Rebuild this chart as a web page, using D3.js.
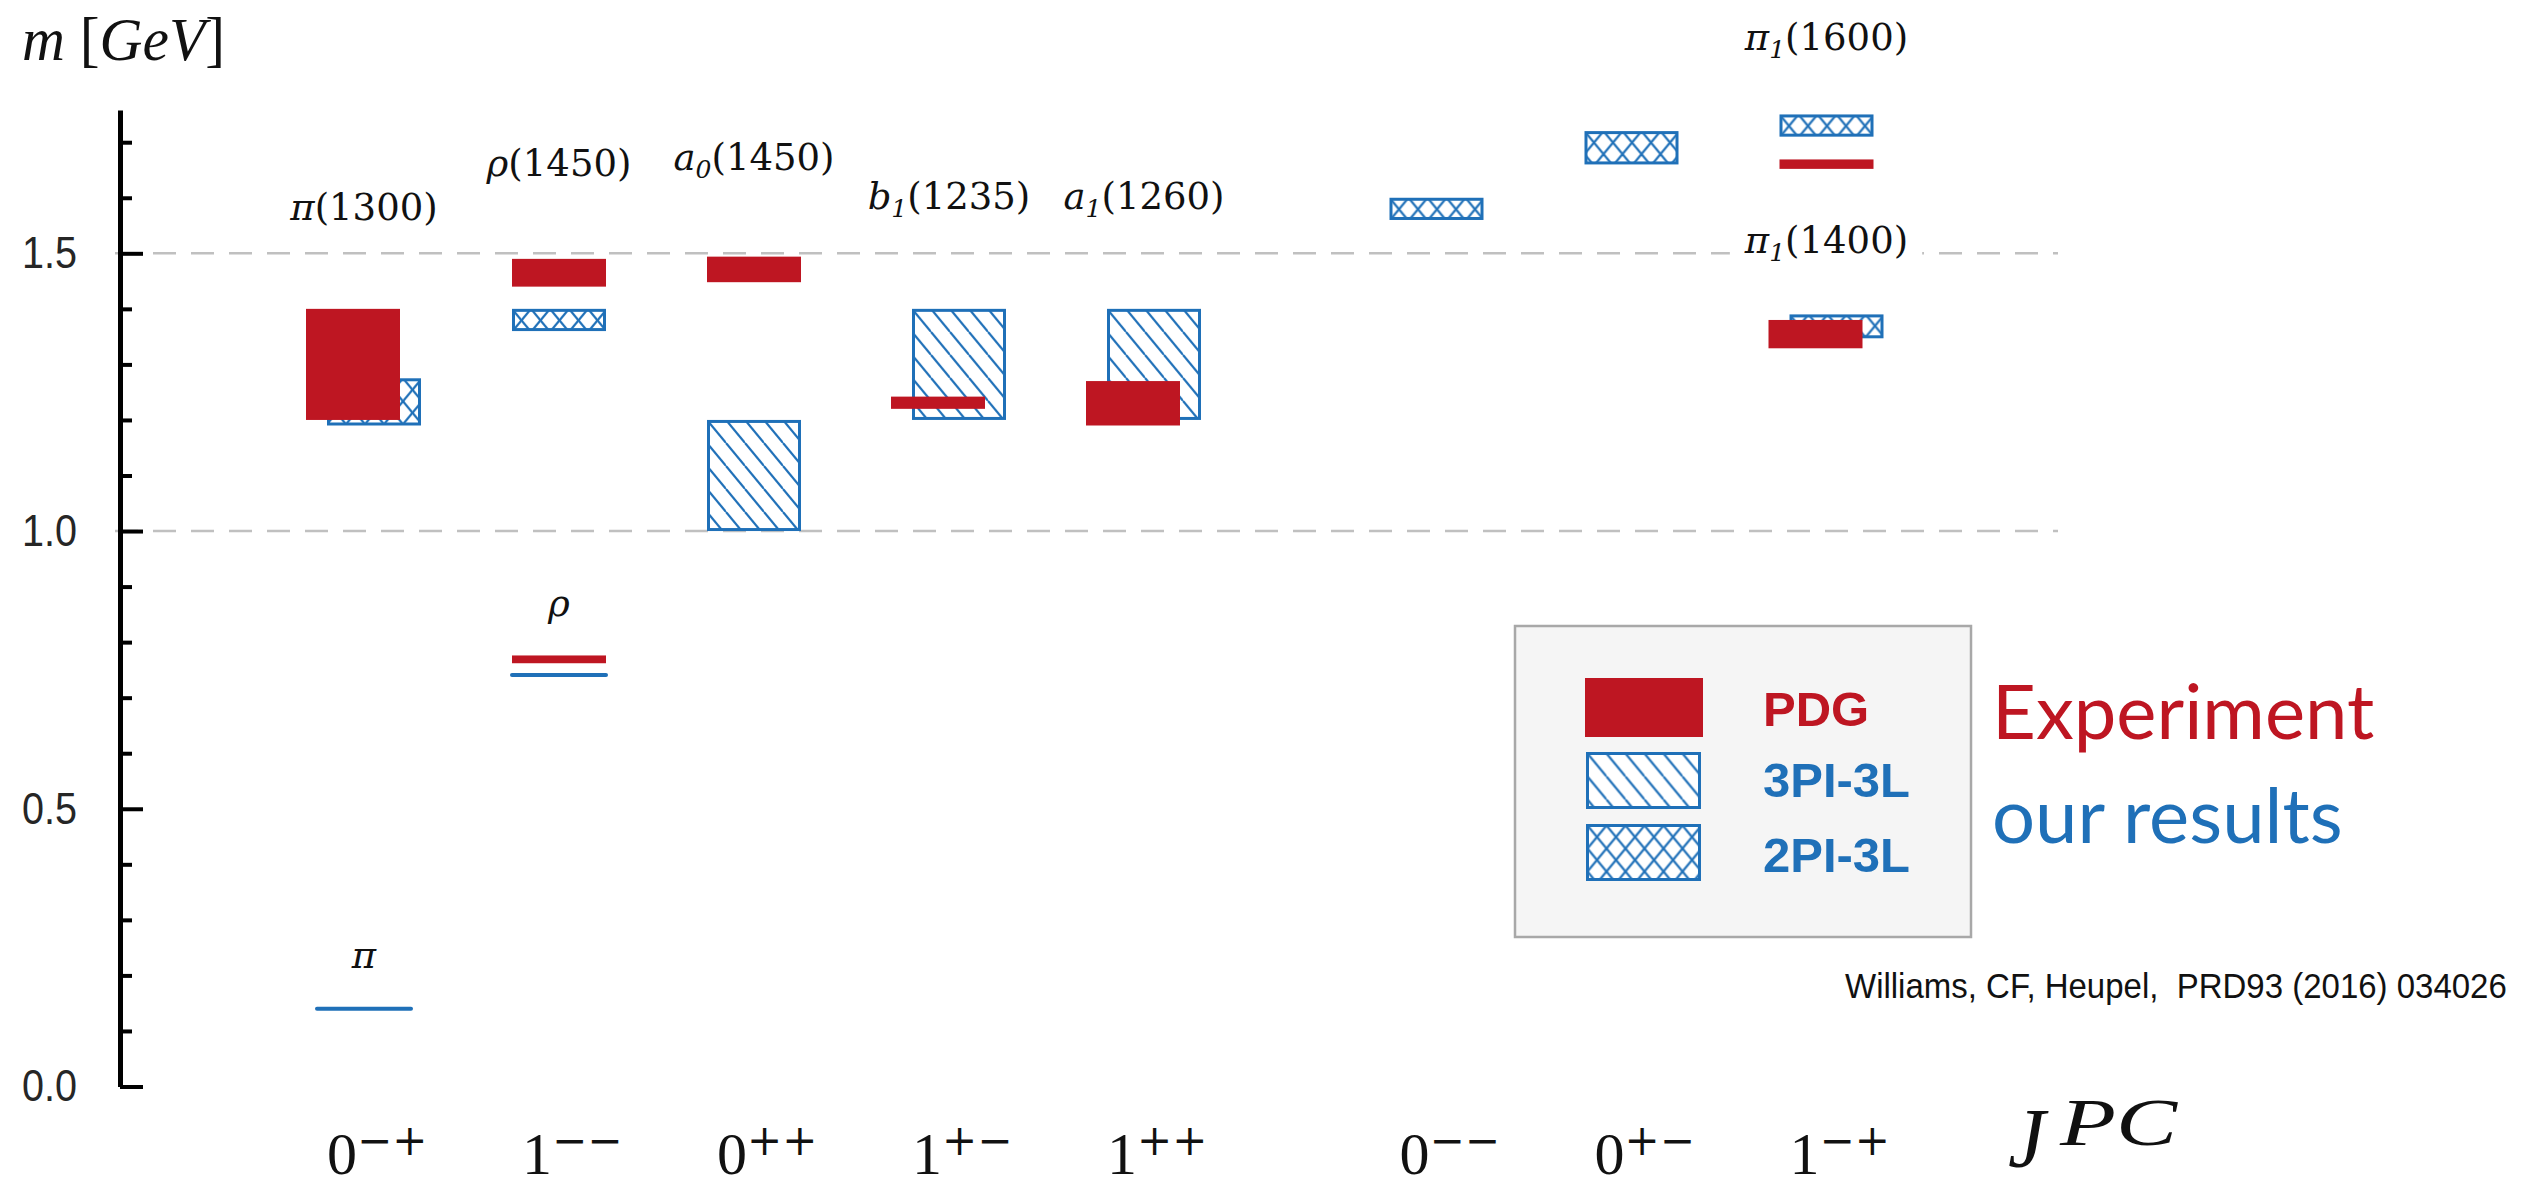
<!DOCTYPE html>
<html>
<head>
<meta charset="utf-8">
<script src="https://cdn.jsdelivr.net/npm/d3@7"></script>
<style>
  html, body { margin: 0; padding: 0; background: #fff; }
  svg { display: block; }
</style>
</head>
<body>
<svg id="chart" width="2523" height="1187"></svg>
<script>
// ---- J^PC channels along the x axis ----
const channels = ["0-+", "1--", "0++", "1+-", "1++", "0--", "0+-", "1-+"];

// ---- PDG (experiment) mass bands, GeV ----
const pdgChannel = ["0-+", "1--", "1--", "0++", "1+-", "1++", "1-+", "1-+"];
const pdgLow     = [1.200, 1.440, 0.762, 1.448, 1.220, 1.190, 1.652, 1.329];
const pdgHigh    = [1.400, 1.490, 0.776, 1.494, 1.242, 1.270, 1.669, 1.380];

// ---- 3PI-3L results, GeV ----
const pi3Channel = ["0++", "1+-", "1++"];
const pi3Low     = [1.00, 1.20, 1.20];
const pi3High    = [1.20, 1.40, 1.40];

// ---- 2PI-3L results, GeV ----
const pi2Channel = ["0-+", "1--", "0--", "0+-", "1-+", "1-+"];
const pi2Low     = [1.190, 1.360, 1.560, 1.660, 1.710, 1.347];
const pi2High    = [1.275, 1.400, 1.600, 1.720, 1.750, 1.390];

// ---- ground states (2PI-3L), GeV ----
const groundChannel = ["0-+", "1--"];
const groundMass    = [0.140, 0.741];

// ---- state names and the mass (GeV) at which each name sits ----
const stateChannel = ["0-+", "1--", "0++", "1+-", "1++", "1-+", "1-+", "0-+", "1--"];
const stateSymbol  = ["π", "ρ", "a", "b", "a", "π", "π", "π", "ρ"];
const stateIndex   = ["", "", "0", "1", "1", "1", "1", "", ""];
const stateMass    = ["1300", "1450", "1450", "1235", "1260", "1600", "1400", "", ""];
const stateAt      = [1.56, 1.64, 1.65, 1.58, 1.58, 1.866, 1.50, 0.213, 0.847];

// ---- y axis ticks ----
const yMajor = [0.0, 0.5, 1.0, 1.5];
const yMinor = [0.1, 0.2, 0.3, 0.4, 0.6, 0.7, 0.8, 0.9, 1.1, 1.2, 1.3, 1.4, 1.6, 1.7];
const yGrid  = [1.0, 1.5];

// ---- layout ----
const channelSlot = [0, 1, 2, 3, 4, 5.5, 6.5, 7.5];   // exotics set apart
const RED = "#be1622", BLUE = "#1f70b8";
const BOX_W = 94;

const svg = d3.select("#chart");
const defs = svg.append("defs");

const y = d3.scaleLinear().domain([0, 1.758]).range([1086.5, 110]);
const x = d3.scaleLinear().domain([0, 7.5]).range([364, 364 + 195 * 7.5]);
const cx = c => x(channelSlot[channels.indexOf(c)]);
const AXIS_X = 120;

// hatch patterns anchored at a box corner
function makePattern(id, x0, y0, kind) {
  const w = 19, h = 23;
  const p = defs.append("pattern")
    .attr("id", id).attr("patternUnits", "userSpaceOnUse")
    .attr("x", x0).attr("y", y0).attr("width", w).attr("height", h);
  const seg = [];
  for (const s of [-w, 0, w]) {
    if (kind === "diag" || kind === "cross") seg.push([s, 0, s + w, h]);
    if (kind === "cross") seg.push([s + w, 0, s, h]);
  }
  p.selectAll("line").data(seg).join("line")
    .attr("x1", d => d[0]).attr("y1", d => d[1])
    .attr("x2", d => d[2]).attr("y2", d => d[3])
    .attr("stroke", BLUE).attr("stroke-width", 2.2);
  return `url(#${id})`;
}

// squeeze a text horizontally to a given width
function fitWidth(sel, width) {
  const w = sel.node().getComputedTextLength();
  sel.attr("transform", `scale(${width / w},1)`);
}

// ---- dashed reference lines ----
svg.append("g").selectAll("line").data(yGrid).join("line")
  .attr("x1", 115).attr("x2", 2058)
  .attr("y1", d => y(d)).attr("y2", d => y(d))
  .attr("stroke", "#c0c0c0").attr("stroke-width", 2.5)
  .attr("stroke-dasharray", "23 15");

// ---- ground states as single lines ----
svg.append("g").selectAll("line").data(groundChannel).join("line")
  .attr("x1", c => cx(c) - BOX_W / 2).attr("x2", c => cx(c) + BOX_W / 2)
  .attr("y1", (c, i) => y(groundMass[i])).attr("y2", (c, i) => y(groundMass[i]))
  .attr("stroke", BLUE).attr("stroke-width", 4).attr("stroke-linecap", "round");

// ---- assemble the mass bands (lattice first, experiment on top) ----
const bands = [];
pi3Channel.forEach((c, i) => bands.push({ series: "3PI", ch: c, lo: pi3Low[i], hi: pi3High[i] }));
pi2Channel.forEach((c, i) => bands.push({ series: "2PI", ch: c, lo: pi2Low[i], hi: pi2High[i] }));
pdgChannel.forEach((c, i) => bands.push({ series: "PDG", ch: c, lo: pdgLow[i], hi: pdgHigh[i] }));

// stagger experiment and lattice bands sideways where they overlap in mass
bands.forEach(b => {
  const isExp = b.series === "PDG";
  const clash = bands.some(o => o.ch === b.ch && (o.series === "PDG") !== isExp && o.lo < b.hi && b.lo < o.hi);
  b.shift = clash ? (isExp ? -11 : 10) : 0;
  b.x0 = cx(b.ch) + b.shift - BOX_W / 2;
});

const gBands = svg.append("g");
bands.forEach((b, i) => {
  const top = y(b.hi), bot = y(b.lo);
  if (b.series === "PDG") {
    gBands.append("rect")
      .attr("x", b.x0).attr("y", top).attr("width", BOX_W).attr("height", bot - top)
      .attr("fill", RED);
  } else {
    const fill = makePattern(`band-${i}`, b.x0, top, b.series === "3PI" ? "diag" : "cross");
    gBands.append("rect")
      .attr("x", b.x0).attr("y", top).attr("width", BOX_W).attr("height", bot - top)
      .attr("fill", "#fff");
    gBands.append("rect")
      .attr("x", b.x0 + 1.5).attr("y", top + 1.5).attr("width", BOX_W - 3).attr("height", bot - top - 3)
      .attr("fill", fill).attr("stroke", BLUE).attr("stroke-width", 3);
  }
});

// ---- state names ----
const gNames = svg.append("g").style("font-family", "'DejaVu Serif', serif").style("font-size", "37px").attr("fill", "#111");
stateChannel.forEach((c, i) => {
  const g = gNames.append("g");
  const t = g.append("text").attr("x", cx(c)).attr("y", y(stateAt[i])).attr("text-anchor", "middle");
  t.append("tspan").style("font-style", "italic").text(stateSymbol[i]);
  if (stateIndex[i]) t.append("tspan").attr("dy", 8).style("font-style", "italic").style("font-size", "25px").text(stateIndex[i]);
  if (stateMass[i]) t.append("tspan").attr("dy", stateIndex[i] ? -8 : 0).text(`(${stateMass[i]})`);
  const bb = t.node().getBBox();
  g.insert("rect", "text").attr("x", bb.x - 14).attr("y", bb.y).attr("width", bb.width + 28).attr("height", bb.height).attr("fill", "#fff");
});

// ---- y axis ----
const sansFont = "'Liberation Sans', Arial, sans-serif";
const yAxis = svg.append("g").attr("transform", `translate(${AXIS_X},0)`)
  .call(d3.axisLeft(y).tickValues(yMajor).tickSizeInner(-23).tickSizeOuter(0).tickPadding(43).tickFormat(d3.format(".1f")));
yAxis.select(".domain").attr("stroke", "#000").attr("stroke-width", 5);
yAxis.selectAll(".tick line").attr("stroke", "#000").attr("stroke-width", 4);
yAxis.selectAll(".tick text").attr("fill", "#262626")
  .attr("textLength", 55).attr("lengthAdjust", "spacingAndGlyphs")
  .style("font-family", sansFont).style("font-size", "45px");

const yMinorAxis = svg.append("g").attr("transform", `translate(${AXIS_X},0)`)
  .call(d3.axisLeft(y).tickValues(yMinor).tickSizeInner(-12).tickSizeOuter(0).tickFormat(""));
yMinorAxis.select(".domain").remove();
yMinorAxis.selectAll(".tick line").attr("stroke", "#000").attr("stroke-width", 4);

// y title
const yTitle = svg.append("text").attr("x", 22).attr("y", 60)
  .attr("textLength", 203).attr("lengthAdjust", "spacingAndGlyphs")
  .style("font-family", "'Liberation Serif', serif").style("font-size", "61px").attr("fill", "#111");
yTitle.append("tspan").style("font-style", "italic").text("m");
yTitle.append("tspan").text(" [");
yTitle.append("tspan").style("font-style", "italic").text("GeV");
yTitle.append("tspan").text("]");

// ---- x labels: J^PC ----
const signOf = s => (s === "-" ? "\u2212" : "+");
const gX = svg.append("g").attr("fill", "#111");
channels.forEach(c => {
  const t = gX.append("text").attr("x", cx(c) - 37).attr("y", 1174);
  t.append("tspan").style("font-family", "'Liberation Serif', serif").style("font-size", "60px").text(c[0]);
  t.append("tspan").attr("dy", -19).style("font-family", "'DejaVu Serif', serif").style("font-size", "42px")
    .text(signOf(c[1]) + signOf(c[2]));
});
gX.append("text").attr("x", 2008).attr("y", 1167)
  .style("font-family", "'Liberation Serif', serif").style("font-style", "italic").style("font-size", "84px").text("J");
gX.append("text").attr("x", 2060).attr("y", 1145)
  .attr("textLength", 117).attr("lengthAdjust", "spacingAndGlyphs")
  .style("font-family", "'Liberation Serif', serif").style("font-style", "italic").style("font-size", "68px").text("PC");

// ---- legend ----
const leg = svg.append("g");
leg.append("rect").attr("x", 1515).attr("y", 626).attr("width", 456).attr("height", 311)
  .attr("fill", "#f5f5f5").attr("stroke", "#a8a8a8").attr("stroke-width", 2.5);
const legendItems = [
  { label: "PDG", kind: "solid", color: RED, y: 678, h: 59, base: 726 },
  { label: "3PI-3L", kind: "diag", color: BLUE, y: 752, h: 57, base: 797 },
  { label: "2PI-3L", kind: "cross", color: BLUE, y: 824, h: 57, base: 872 }
];
legendItems.forEach((it, i) => {
  if (it.kind === "solid") {
    leg.append("rect").attr("x", 1585).attr("y", it.y).attr("width", 118).attr("height", it.h).attr("fill", RED);
  } else {
    const f = makePattern(`legend-${i}`, 1587.5, it.y + 1.5, it.kind);
    leg.append("rect").attr("x", 1586).attr("y", it.y).attr("width", 115).attr("height", it.h).attr("fill", "#fff");
    leg.append("rect").attr("x", 1587.5).attr("y", it.y + 1.5).attr("width", 112).attr("height", it.h - 3)
      .attr("fill", f).attr("stroke", BLUE).attr("stroke-width", 3);
  }
  leg.append("text").attr("x", 1763).attr("y", it.base).attr("fill", it.color)
    .style("font-family", sansFont).style("font-weight", "bold").style("font-size", "49px")
    .text(it.label);
});

svg.append("text").attr("x", 1992).attr("y", 739).attr("fill", RED)
  .style("font-family", "Lato, 'Open Sans', sans-serif").style("font-size", "76px").text("Experiment");
svg.append("text").attr("x", 1992).attr("y", 843).attr("fill", BLUE)
  .style("font-family", "Lato, 'Open Sans', sans-serif").style("font-size", "76px").text("our results");

// reference
const cite = svg.append("g").attr("transform", "translate(1845,998)")
  .append("text").attr("x", 0).attr("y", 0).attr("fill", "#111")
  .style("font-family", sansFont).style("font-size", "35px").style("white-space", "pre")
  .text("Williams, CF, Heupel,  PRD93 (2016) 034026");
fitWidth(cite, 662);
</script>
</body>
</html>
